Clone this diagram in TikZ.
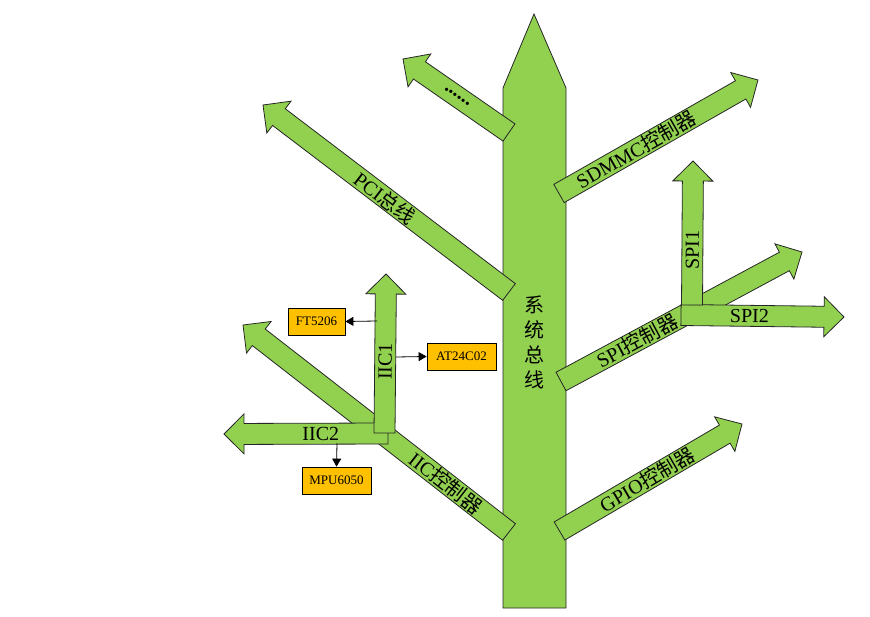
\documentclass[tikz,border=0pt]{standalone}
\usepackage{fontspec}
\setmainfont{Liberation Serif}
\setmonofont{Liberation Mono}
\newfontfamily\cjk{Noto Sans CJK SC}
\usetikzlibrary{calc,arrows.meta}
\definecolor{leaf}{HTML}{92D050}
\definecolor{boxorange}{HTML}{FFC000}
\tikzset{
  branch/.style={fill=leaf, draw=black!85, line width=0.8pt, line join=miter},
  lbl/.style={sloped, inner sep=0pt, font=\rmfamily\fontsize{20}{20}\selectfont, text=black},
  chip/.style={fill=boxorange, draw=black, line width=0.8pt, inner sep=0pt,
    minimum height=27pt, font=\rmfamily\fontsize{13}{13}\selectfont},
  wire/.style={draw=black, line width=0.8pt, -{Triangle[length=8pt,width=9pt]}}
}
% #1 name, #2 base, #3 tip, #4 pos, #5 label
\newcommand\brarrow[5]{%
  \coordinate (#1-b) at #2;
  \coordinate (#1-t) at #3;
  \coordinate (#1-h) at ($(#1-t)!20pt!(#1-b)$);
  \draw[branch] ($(#1-b)!10.5pt!90:(#1-t)$) -- ($(#1-h)!10.5pt!90:(#1-t)$)
    -- ($(#1-h)!20pt!90:(#1-t)$) -- (#1-t) -- ($(#1-h)!20pt!-90:(#1-t)$)
    -- ($(#1-h)!10.5pt!-90:(#1-t)$) -- ($(#1-b)!10.5pt!-90:(#1-t)$) -- cycle;
  \path (#1-b) -- (#1-t) node[lbl, pos=#4] (#1-lbl) {#5};
}
\begin{document}
\begin{tikzpicture}[x=1pt, y=-1pt]
\useasboundingbox (0,0) rectangle (870,617);
% trunk
\draw[branch] (503,608) -- (503,88) -- (534,14) -- (566,88) -- (566,608) -- cycle;
\node[align=center, inner sep=0pt, font=\cjk\fontsize{20}{25}\selectfont] (trunk) at (534,342.5) {系\\统\\总\\线};
% branches
\brarrow{dots}{(509,132.5)}{(403,59)}{0.49}{\bfseries......}
\brarrow{pci}{(509,292)}{(263,105)}{0.504}{PCI{\cjk 总线}}
\brarrow{sdmmc}{(559,193.5)}{(758,80)}{0.387}{SDMMC{\cjk 控制器}}
\brarrow{iicc}{(509,532)}{(243,325)}{0.237}{IIC{\cjk 控制器}}
\brarrow{spic}{(561,381.5)}{(802,252)}{0.315}{SPI{\cjk 控制器}}
\brarrow{gpio}{(559.5,531)}{(742,424)}{0.48}{GPIO{\cjk 控制器}}
\brarrow{iic2}{(388,433.5)}{(224,434)}{0.41}{IIC2}
\brarrow{iic1}{(384.5,433)}{(386,274)}{0.45}{IIC1}
\brarrow{spi2}{(681,315)}{(844,317)}{0.42}{SPI2}
\brarrow{spi1}{(692,305)}{(693,161)}{0.38}{SPI1}
% chips
\node[chip, minimum width=57pt] (ft) at (316.5,321.5) {FT5206};
\node[chip, minimum width=69pt] (at) at (461.5,356.5) {AT24C02};
\node[chip, minimum width=69pt] (mpu) at (336.5,480.5) {MPU6050};
\coordinate (ftsrc) at (377,321);
\coordinate (atsrc) at (396,357);
\coordinate (mpusrc) at (337,443);
\draw[wire] (ftsrc) -- (ft.east);
\draw[wire] (atsrc) -- (at.west);
\draw[wire] (mpusrc) -- (mpu.north);
\end{tikzpicture}
\end{document}
